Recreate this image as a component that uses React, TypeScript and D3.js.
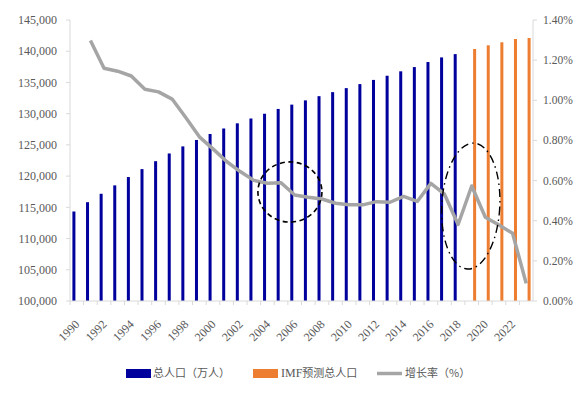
import React from "react";
import * as d3 from "d3";

const years: number[] = d3.range(1990, 2024);
const popYears = [1990,1991,1992,1993,1994,1995,1996,1997,1998,1999,2000,2001,2002,2003,2004,2005,2006,2007,2008,2009,2010,2011,2012,2013,2014,2015,2016,2017,2018];
const population = [114333,115823,117171,118517,119850,121121,122389,123626,124761,125786,126743,127627,128453,129227,129988,130756,131448,132129,132802,133450,134091,134735,135404,136072,136782,137462,138271,139008,139538];
const imfYears = [2019,2020,2021,2022,2023];
const imfPopulation = [140360,140950,141430,141960,142120];
const rateYears = [1991,1992,1993,1994,1995,1996,1997,1998,1999,2000,2001,2002,2003,2004,2005,2006,2007,2008,2009,2010,2011,2012,2013,2014,2015,2016,2017,2018,2019,2020,2021,2022,2023];
const growthRate = [1.298,1.160,1.145,1.121,1.055,1.042,1.006,0.914,0.818,0.758,0.695,0.645,0.601,0.587,0.589,0.528,0.517,0.508,0.487,0.479,0.479,0.495,0.492,0.521,0.496,0.586,0.532,0.381,0.573,0.417,0.379,0.337,0.088];
const leftTicks = [100000,105000,110000,115000,120000,125000,130000,135000,140000,145000];
const rightTicks = [0,0.2,0.4,0.6,0.8,1.0,1.2,1.4];
const legendLabels = ["总人口（万人）", "IMF预测总人口", "增长率（%）"];

const W = 579, H = 394;
const M = { left: 70, right: 533, top: 20, bottom: 301 };
const BLUE = "#00009C";
const ORANGE = "#ED7D31";
const GRAY = "#A5A5A5";
const TXT = "#595959";
const AX = "#D9D9D9";
const SERIF = "'Liberation Serif', 'Times New Roman', serif";
const CJK = "'Noto Sans CJK SC', sans-serif";

export default function App() {
  const x = d3.scaleBand<number>().domain(years).range([M.left, M.right]).paddingInner(0).paddingOuter(0);
  const sub = d3.scaleBand<string>().domain(["pop", "imf"]).range([0, x.bandwidth()]).paddingInner(0.483).paddingOuter(0.414);
  const yL = d3.scaleLinear().domain([100000, 145000]).range([M.bottom, M.top]);
  const yR = d3.scaleLinear().domain([0, 1.4]).range([M.bottom, M.top]);
  const cx = (yr: number) => (x(yr) as number) + x.bandwidth() / 2;
  const yrToX = d3.scaleLinear().domain([1990, 2023]).range([cx(1990), cx(2023)]);

  const line = d3.line<number>()
    .x((_, i) => cx(rateYears[i]))
    .y((d) => yR(d))
    .curve(d3.curveLinear);

  const fmt = d3.format(",");
  const fmtP = (v: number) => v.toFixed(2) + "%";

  const ell1 = { cx: yrToX(2005.65), cy: yR(0.543), rx: yrToX(2005.65 + 2.35) - yrToX(2005.65), ry: yR(0) - yR(0.15) };
  const ell2 = { cx: yrToX(2018.93), cy: yR(0.473), rx: yrToX(2018.93 + 2.13) - yrToX(2018.93), ry: yR(0) - yR(0.314) };

  return (
    <svg width={W} height={H} style={{ position: "absolute", left: 0, top: 0, background: "#fff" }}>
      {/* bars */}
      {population.map((v, i) => (
        <rect key={"p" + i} x={(x(popYears[i]) as number) + (sub("pop") as number)} y={yL(v)}
          width={sub.bandwidth()} height={yL(100000) - yL(v)} fill={BLUE} />
      ))}
      {imfPopulation.map((v, i) => (
        <rect key={"f" + i} x={(x(imfYears[i]) as number) + (sub("imf") as number)} y={yL(v)}
          width={sub.bandwidth()} height={yL(100000) - yL(v)} fill={ORANGE} />
      ))}
      {/* axes */}
      <line x1={M.left} x2={M.left} y1={M.top} y2={M.bottom} stroke={AX} strokeWidth={1} />
      <line x1={M.right} x2={M.right} y1={M.top} y2={M.bottom} stroke={AX} strokeWidth={1} />
      <line x1={M.left} x2={M.right} y1={M.bottom} y2={M.bottom} stroke={AX} strokeWidth={1} />
      {leftTicks.map((t) => (
        <g key={"lt" + t}>
          <line x1={M.left - 4} x2={M.left} y1={yL(t)} y2={yL(t)} stroke={AX} />
          <text x={57} y={yL(t)} dy="0.35em" textAnchor="end" fontFamily={SERIF} fontSize={12} fill={TXT}>{fmt(t)}</text>
        </g>
      ))}
      {rightTicks.map((t) => (
        <g key={"rt" + t}>
          <line x1={M.right} x2={M.right + 4} y1={yR(t)} y2={yR(t)} stroke={AX} />
          <text x={543} y={yR(t)} dy="0.35em" textAnchor="start" fontFamily={SERIF} fontSize={11.5} fill={TXT}>{fmtP(t)}</text>
        </g>
      ))}
      {years.map((yr) => (
        <line key={"xt" + yr} x1={x(yr) as number} x2={x(yr) as number} y1={M.bottom} y2={M.bottom + 4} stroke={AX} />
      ))}
      {years.filter((yr) => yr % 2 === 0).map((yr) => (
        <text key={"xl" + yr} transform={`translate(${cx(yr) + 3.5},${M.bottom + 24}) rotate(-45)`}
          textAnchor="end" fontFamily={SERIF} fontSize={12} fill={TXT}>{yr}</text>
      ))}
      {/* growth line */}
      <path d={line(growthRate) || ""} fill="none" stroke={GRAY} strokeWidth={3.5} strokeLinejoin="round" />
      {/* annotations */}
      <ellipse cx={ell1.cx} cy={ell1.cy} rx={ell1.rx} ry={ell1.ry} fill="none" stroke="#000" strokeWidth={1.6} strokeDasharray="5 3.5" />
      <ellipse cx={ell2.cx} cy={ell2.cy} rx={ell2.rx} ry={ell2.ry} fill="none" stroke="#000" strokeWidth={1.4} strokeDasharray="8 4 1.5 4"
        transform={`rotate(3 ${ell2.cx} ${ell2.cy})`} />
      {/* legend */}
      <g fontFamily={CJK} fontSize={11} fill={TXT}>
        <rect x={126} y={369} width={25} height={9} fill={BLUE} />
        <text x={153} y={373.5} dy="0.35em">{legendLabels[0]}</text>
        <rect x={253} y={369} width={25} height={9} fill={ORANGE} />
        <text x={281} y={373.5} dy="0.35em">
          <tspan fontFamily={SERIF} fontSize={12}>IMF</tspan>预测总人口
        </text>
        <line x1={377} x2={402} y1={373.5} y2={373.5} stroke={GRAY} strokeWidth={3.5} />
        <text x={405} y={373.5} dy="0.35em">{legendLabels[2]}</text>
      </g>
    </svg>
  );
}
